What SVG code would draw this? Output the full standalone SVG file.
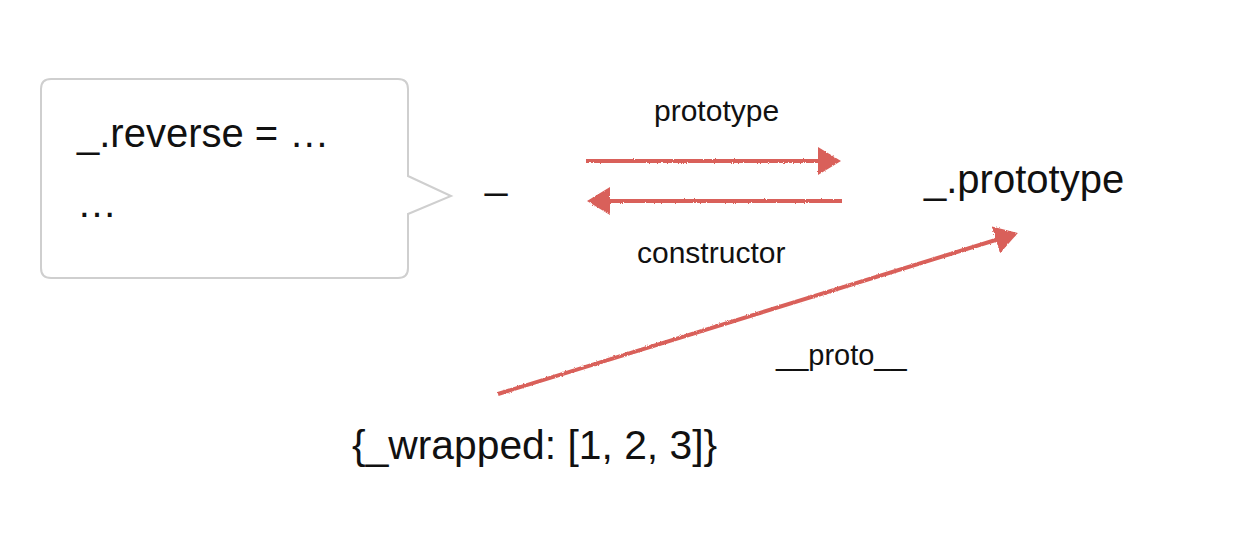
<svg xmlns="http://www.w3.org/2000/svg" width="1234" height="554" viewBox="0 0 1234 554">
  <style>
    .big { font-family: "Liberation Sans", Arial, sans-serif; font-size: 40px; fill: #111; }
    .lbl { font-family: "Liberation Sans", Arial, sans-serif; font-size: 30px; fill: #111; }
    .conn { stroke: #d9605a; stroke-width: 4; fill: none; stroke-linecap: butt; }
    .callout { fill: #fff; stroke: #cfcfcf; stroke-width: 2; }
  </style>
  <defs>
    <marker id="head" viewBox="0 0 24 28" refX="20" refY="14" markerWidth="24" markerHeight="28" markerUnits="userSpaceOnUse" orient="auto">
      <path d="M0,0 L23,14 L0,28 Z" fill="#d9605a"/>
    </marker>
    <filter id="rough" filterUnits="userSpaceOnUse" x="0" y="0" width="1234" height="554">
      <feTurbulence type="fractalNoise" baseFrequency="0.9" numOctaves="2" seed="4" result="n"/>
      <feDisplacementMap in="SourceGraphic" in2="n" scale="2.5" xChannelSelector="R" yChannelSelector="G"/>
    </filter>
  </defs>
  <rect width="1234" height="554" fill="#fff"/>

  <g id="callout-box">
    <path class="callout" d="M51,79 H398 Q408,79 408,89 V176 L451,196 L408,214 V268 Q408,278 398,278 H51 Q41,278 41,268 V89 Q41,79 51,79 Z"/>
    <text class="big" x="77" y="147">_.reverse = …</text>
    <text class="big" x="77" y="217">…</text>
  </g>

  <g id="node-underscore">
    <text class="big" x="485" y="188">_</text>
  </g>

  <g id="node-prototype">
    <text class="big" x="924" y="193">_.prototype</text>
  </g>

  <g id="node-wrapped">
    <text class="big" x="352" y="459" style="font-size:40.8px">{_wrapped: [1, 2, 3]}</text>
  </g>

  <g id="connectors">
    <g filter="url(#rough)">
      <line class="conn" x1="586" y1="161" x2="838" y2="161" marker-end="url(#head)"/>
      <line class="conn" x1="842" y1="201" x2="590" y2="201" marker-end="url(#head)"/>
      <line class="conn" x1="498" y1="394" x2="1015" y2="234" marker-end="url(#head)"/>
    </g>
    <text class="lbl" x="654" y="121">prototype</text>
    <text class="lbl" x="637" y="263">constructor</text>
    <text class="lbl" x="776" y="365" style="font-size:29px">__proto__</text>
  </g>
</svg>
